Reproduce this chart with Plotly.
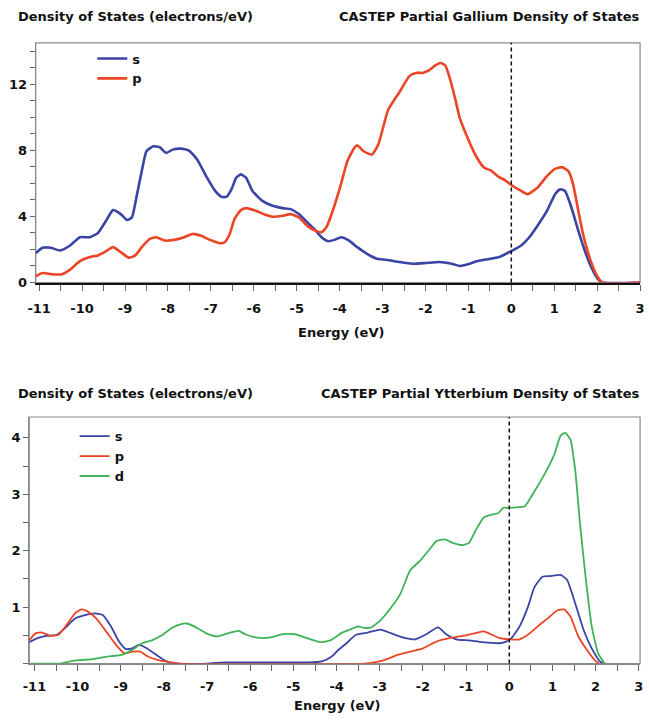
import plotly.graph_objects as go

W, H = 649, 721

# ---------------- Data ----------------
# Energy tick labels (eV)
energy_ticks = [-11, -10, -9, -8, -7, -6, -5, -4, -3, -2, -1, 0, 1, 2, 3]
energy_labels = ["-11", "-10", "-9", "-8", "-7", "-6", "-5", "-4", "-3", "-2", "-1", "0", "1", "2", "3"]
ga_y_ticks = [0, 4, 8, 12]
yb_y_ticks = [1, 2, 3, 4]

# Gallium partial DOS - s
ga_s_e = [-11.08, -10.92, -10.73, -10.51, -10.28, -10.05, -9.82, -9.63, -9.44, -9.28, -9.10, -8.95, -8.84,
          -8.72, -8.61, -8.50, -8.34, -8.19, -8.04, -7.89, -7.70, -7.51, -7.32, -7.09, -6.90, -6.75, -6.64,
          -6.52, -6.41, -6.30, -6.18, -6.03, -5.80, -5.56, -5.33, -5.14, -4.95, -4.73, -4.57, -4.42, -4.27,
          -4.12, -3.97, -3.78, -3.59, -3.36, -3.13, -2.91, -2.60, -2.30, -2.00, -1.69, -1.39, -1.20, -1.01,
          -0.78, -0.48, -0.25, 0.00, 0.23, 0.42, 0.61, 0.83, 1.02, 1.14, 1.25, 1.40, 1.56, 1.71, 1.86, 2.01,
          2.12, 3.00]
ga_s = [1.78, 2.10, 2.10, 1.94, 2.24, 2.74, 2.74, 3.00, 3.74, 4.38, 4.14, 3.78, 3.94,
        5.34, 6.74, 7.94, 8.24, 8.18, 7.84, 8.04, 8.10, 7.98, 7.44, 6.34, 5.54, 5.18, 5.18,
        5.64, 6.34, 6.54, 6.34, 5.54, 4.94, 4.64, 4.50, 4.44, 4.14, 3.58, 3.18, 2.74, 2.50,
        2.58, 2.74, 2.54, 2.14, 1.74, 1.44, 1.38, 1.24, 1.14, 1.18, 1.24, 1.14, 1.00, 1.10,
        1.30, 1.44, 1.58, 1.90, 2.24, 2.74, 3.44, 4.34, 5.34, 5.64, 5.54, 4.54, 3.14, 1.94, 0.94, 0.24,
        0.00, 0.00]

# Gallium partial DOS - p
ga_p_e = [-11.08, -10.92, -10.70, -10.47, -10.28, -10.05, -9.82, -9.63, -9.44, -9.28, -9.10, -8.91, -8.76,
          -8.61, -8.42, -8.27, -8.08, -7.85, -7.62, -7.43, -7.24, -7.02, -6.79, -6.68, -6.56, -6.45, -6.30,
          -6.18, -5.95, -5.73, -5.56, -5.33, -5.14, -4.95, -4.73, -4.57, -4.42, -4.31, -4.16, -3.97, -3.82,
          -3.66, -3.59, -3.44, -3.25, -3.10, -2.87, -2.60, -2.37, -2.22, -2.07, -1.92, -1.77, -1.65, -1.54,
          -1.43, -1.31, -1.20, -1.05, -0.82, -0.63, -0.48, -0.30, -0.15, 0.00, 0.23, 0.38, 0.61, 0.83, 1.02,
          1.18, 1.33, 1.44, 1.56, 1.67, 1.82, 1.97, 2.12, 3.00]
ga_p = [0.38, 0.58, 0.50, 0.50, 0.78, 1.30, 1.54, 1.64, 1.90, 2.14, 1.84, 1.50, 1.64,
        2.14, 2.64, 2.74, 2.54, 2.58, 2.74, 2.94, 2.84, 2.58, 2.38, 2.44, 2.94, 3.84, 4.38,
        4.50, 4.34, 4.10, 3.98, 4.04, 4.14, 3.94, 3.38, 3.14, 3.04, 3.34, 4.34, 5.94, 7.34,
        8.14, 8.30, 7.94, 7.74, 8.34, 10.44, 11.54, 12.50, 12.68, 12.68, 12.84, 13.14, 13.28, 13.14,
        12.34, 11.14, 9.94, 8.94, 7.64, 6.94, 6.78, 6.40, 6.20, 5.90, 5.54, 5.34, 5.74, 6.44, 6.88,
        6.98, 6.74, 5.94, 4.34, 2.94, 1.54, 0.54, 0.00, 0.00]

# Ytterbium partial DOS - s
yb_s_e = [-11.12, -10.93, -10.72, -10.48, -10.29, -10.06, -9.83, -9.60, -9.42, -9.23, -9.04, -8.89, -8.74,
          -8.58, -8.40, -8.17, -7.94, -7.75, -7.00, -6.60, -5.50, -4.64, -4.34, -4.12, -3.96, -3.77, -3.55,
          -3.28, -2.98, -2.75, -2.45, -2.18, -1.92, -1.65, -1.46, -1.23, -0.93, -0.63, -0.25, -0.10, 0.05,
          0.24, 0.43, 0.58, 0.77, 0.96, 1.19, 1.34, 1.53, 1.72, 1.91, 2.10, 2.17]
yb_s = [0.38, 0.45, 0.49, 0.51, 0.63, 0.80, 0.86, 0.89, 0.86, 0.66, 0.39, 0.26, 0.27,
        0.33, 0.27, 0.15, 0.04, 0.00, 0.00, 0.02, 0.02, 0.02, 0.04, 0.12, 0.24, 0.36, 0.51,
        0.55, 0.60, 0.54, 0.46, 0.43, 0.52, 0.64, 0.52, 0.43, 0.41, 0.38, 0.36, 0.38, 0.45,
        0.66, 1.00, 1.35, 1.54, 1.55, 1.57, 1.48, 1.06, 0.60, 0.27, 0.04, 0.00]

# Ytterbium partial DOS - p
yb_p_e = [-11.12, -10.97, -10.82, -10.63, -10.44, -10.25, -10.06, -9.91, -9.76, -9.57, -9.34, -9.11, -8.92,
          -8.74, -8.55, -8.36, -8.13, -7.82, -7.60, -3.36, -3.13, -2.90, -2.60, -2.30, -2.00, -1.69, -1.39,
          -1.08, -0.78, -0.59, -0.40, -0.22, 0.00, 0.24, 0.43, 0.66, 0.89, 1.11, 1.27, 1.42, 1.60, 1.80,
          1.98, 2.08]
yb_p = [0.41, 0.54, 0.55, 0.49, 0.51, 0.69, 0.89, 0.96, 0.92, 0.80, 0.57, 0.33, 0.18,
        0.21, 0.21, 0.12, 0.06, 0.02, 0.00, 0.00, 0.02, 0.06, 0.15, 0.21, 0.27, 0.39, 0.45,
        0.49, 0.54, 0.57, 0.51, 0.45, 0.43, 0.43, 0.51, 0.66, 0.80, 0.94, 0.96, 0.83, 0.48, 0.24,
        0.06, 0.00]

# Ytterbium partial DOS - d
yb_d_e = [-11.12, -10.40, -10.17, -9.95, -9.64, -9.34, -8.96, -8.74, -8.51, -8.28, -8.05, -7.82, -7.60,
          -7.48, -7.30, -7.03, -6.77, -6.50, -6.27, -6.12, -5.85, -5.55, -5.25, -4.98, -4.72, -4.38, -4.15,
          -3.89, -3.66, -3.51, -3.36, -3.20, -2.98, -2.75, -2.52, -2.30, -2.07, -1.84, -1.69, -1.50, -1.31,
          -1.08, -0.93, -0.78, -0.59, -0.40, -0.25, -0.14, 0.00, 0.17, 0.36, 0.58, 0.81, 1.04, 1.19, 1.30,
          1.42, 1.53, 1.64, 1.76, 1.91, 2.06, 2.21]
yb_d = [0.00, 0.00, 0.04, 0.06, 0.08, 0.12, 0.16, 0.24, 0.36, 0.41, 0.50, 0.63, 0.70,
        0.71, 0.66, 0.54, 0.48, 0.54, 0.58, 0.52, 0.46, 0.46, 0.52, 0.52, 0.46, 0.38, 0.41,
        0.54, 0.61, 0.66, 0.63, 0.64, 0.77, 0.98, 1.24, 1.65, 1.82, 2.03, 2.17, 2.20, 2.14,
        2.10, 2.14, 2.36, 2.59, 2.64, 2.67, 2.76, 2.76, 2.77, 2.79, 3.05, 3.35, 3.70, 4.04, 4.09,
        3.96, 3.41, 2.47, 1.59, 0.66, 0.18, 0.00]

BLUE = "#3a44a6"
RED = "#ec4526"
GREEN = "#3fb356"
FONT = "DejaVu Sans"

# ---------------- Figure ----------------
fig = go.Figure()
SM = 0.5
fig.add_trace(go.Scatter(x=ga_s_e, y=ga_s, mode="lines", name="s",
                         line=dict(color=BLUE, width=2.6, shape="spline", smoothing=SM),
                         xaxis="x", yaxis="y", legend="legend"))
fig.add_trace(go.Scatter(x=ga_p_e, y=ga_p, mode="lines", name="p",
                         line=dict(color=RED, width=2.6, shape="spline", smoothing=SM),
                         xaxis="x", yaxis="y", legend="legend"))
fig.add_trace(go.Scatter(x=yb_s_e, y=yb_s, mode="lines", name="s",
                         line=dict(color=BLUE, width=1.8, shape="spline", smoothing=SM),
                         xaxis="x2", yaxis="y2", legend="legend2"))
fig.add_trace(go.Scatter(x=yb_p_e, y=yb_p, mode="lines", name="p",
                         line=dict(color=RED, width=1.8, shape="spline", smoothing=SM),
                         xaxis="x2", yaxis="y2", legend="legend2"))
fig.add_trace(go.Scatter(x=yb_d_e, y=yb_d, mode="lines", name="d",
                         line=dict(color=GREEN, width=1.8, shape="spline", smoothing=SM),
                         xaxis="x2", yaxis="y2", legend="legend2"))

tickfont = dict(family=FONT, size=13, color="#111", weight="bold")


def xax(domain, rng, anchor, linecolor, linewidth, standoff):
    return dict(domain=domain, range=rng, anchor=anchor, tickmode="array", tickvals=energy_ticks,
                ticktext=energy_labels, ticks="outside", ticklen=6, tickwidth=1, tickcolor="#666",
                minor=dict(dtick=0.5, tick0=0, ticks="outside", ticklen=6, tickwidth=1, tickcolor="#666"),
                showline=True, linecolor=linecolor, linewidth=linewidth, mirror=False,
                showgrid=False, zeroline=False, tickfont=tickfont, layer="below traces",
                ticklabelstandoff=standoff)


def yax(domain, rng, anchor, tickvals, minor_dtick):
    return dict(domain=domain, range=rng, anchor=anchor, tickmode="array", tickvals=tickvals,
                ticks="outside", ticklen=5, tickwidth=1, tickcolor="#666",
                minor=dict(dtick=minor_dtick, tick0=0, ticks="outside", ticklen=5, tickwidth=1, tickcolor="#666"),
                showline=True, linecolor="#888", linewidth=1, mirror=False,
                showgrid=False, zeroline=False, tickfont=tickfont, layer="below traces")


top_x = [28.3 / W, 645 / W]
top_y = [1 - 285.7 / H, 1 - 43.3 / H]
bot_x = [21.7 / W, 645 / W]
bot_y = [1 - 671 / H, 1 - 421.7 / H]

layout = dict(
    width=W, height=H, margin=dict(l=0, r=0, t=0, b=0),
    paper_bgcolor="white", plot_bgcolor="white", showlegend=True,
    xaxis=xax(top_x, [-11.08, 3.0], "y", "#111", 2, 7),
    yaxis=yax(top_y, [0, 14.5], "x", ga_y_ticks, 1),
    xaxis2=xax(bot_x, [-11.12, 3.03], "y2", "#888", 1.2, 5),
    yaxis2=yax(bot_y, [0, 4.37], "x2", yb_y_ticks, 0.5),
    legend=dict(x=86 / W, y=1 - 44 / H, xanchor="left", yanchor="top", bgcolor="rgba(0,0,0,0)",
                font=dict(family=FONT, size=13, color="#111", weight="bold"), tracegroupgap=0),
    legend2=dict(x=68 / W, y=1 - 426 / H, xanchor="left", yanchor="top", bgcolor="rgba(0,0,0,0)",
                 font=dict(family=FONT, size=13, color="#111", weight="bold"), tracegroupgap=0),
)
fig.update_layout(**layout)

# frames (gray boxes) and Fermi level dashed lines
for xr, yr in (("x domain", "y domain"), ("x2 domain", "y2 domain")):
    fig.add_shape(type="rect", xref=xr, yref=yr, x0=0, x1=1, y0=0, y1=1,
                  line=dict(color="#8a8a8a", width=1.2), layer="below")
fig.add_shape(type="line", xref="x", yref="y domain", x0=0, x1=0, y0=0, y1=1,
              line=dict(color="#111", width=1.5, dash="4px,3px"))
fig.add_shape(type="line", xref="x2", yref="y2 domain", x0=0, x1=0, y0=0, y1=1,
              line=dict(color="#111", width=1.5, dash="4px,3px"))

title_font = dict(family=FONT, size=13, color="#111", weight="bold")
ann = [
    dict(text="Density of States (electrons/eV)", x=8 / W, y=1 - 17 / H, xanchor="left"),
    dict(text="CASTEP Partial Gallium Density of States", x=646 / W, y=1 - 17 / H, xanchor="right"),
    dict(text="Energy (eV)", x=340 / W, y=1 - 336 / H, xanchor="center"),
    dict(text="Density of States (electrons/eV)", x=8 / W, y=1 - 398 / H, xanchor="left"),
    dict(text="CASTEP Partial Ytterbium Density of States", x=646 / W, y=1 - 398 / H, xanchor="right"),
    dict(text="Energy (eV)", x=336 / W, y=1 - 713 / H, xanchor="center"),
]
for a in ann:
    fig.add_annotation(xref="paper", yref="paper", yanchor="middle", showarrow=False,
                       font=title_font, **a)

fig.write_html("out.html", config={"displayModeBar": False},
               post_script="document.body.style.margin='0';document.body.style.overflow='hidden';")
